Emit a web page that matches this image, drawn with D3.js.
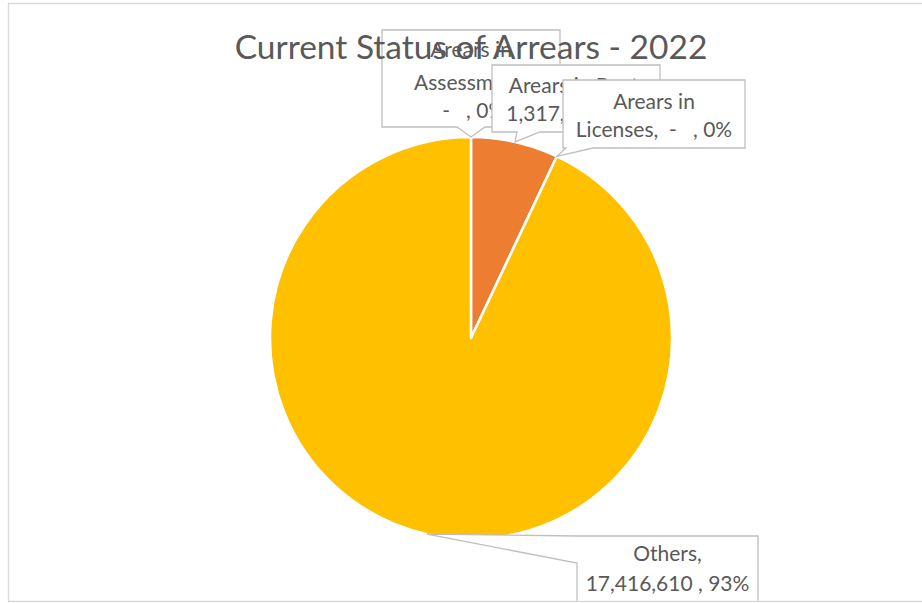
<!DOCTYPE html>
<html>
<head>
<meta charset="utf-8">
<script src="https://cdn.jsdelivr.net/npm/d3@7"></script>
<style>
  html, body { margin: 0; padding: 0; background: #ffffff; }
  svg { display: block; }
  text { font-family: Lato, "Open Sans", sans-serif; }
</style>
</head>
<body>
<svg id="chart" width="922" height="603"></svg>
<script>
// ---- data ----
const title = "Current Status of Arrears - 2022";
const categories = ["Arears in Assessment", "Arears in Rent", "Arears in Licenses", "Others"];
const values = [0, 1317450, 0, 17416610];
const colors = ["#5B9BD5", "#ED7D31", "#A5A5A5", "#FFC000"];
// how each label's category text is wrapped
const labelHeads = [["Arears in", "Assessment,"], ["Arears in Rent,"], ["Arears in"], ["Others,"]];
const labelTailsInline = [false, false, true, false];

// ---- layout ----
const W = 922, H = 603;
const cx = 471, cy = 338, R = 201;
const svg = d3.select("#chart");

svg.append("defs").append("clipPath").attr("id", "area")
  .append("rect").attr("x", 8).attr("y", 3).attr("width", W).attr("height", 598);

const root = svg.append("g").attr("clip-path", "url(#area)");

const total = d3.sum(values);
const pie = d3.pie().sort(null).value(d => d)(values);
const arc = d3.arc().innerRadius(0).outerRadius(R);

const pieG = root.append("g").attr("transform", `translate(${cx},${cy})`);
pieG.selectAll("path").data(pie).join("path")
  .attr("d", arc)
  .attr("fill", (d, i) => colors[i])
  .attr("stroke", "#ffffff")
  .attr("stroke-width", 2.5)
  .attr("stroke-linejoin", "round");

const fmtNum = d3.format(",");
function valueText(v) { return v === 0 ? "-   " : fmtNum(v) + " "; }
function pctText(v) { return Math.round(v / total * 100) + "%"; }

function labelLines(i) {
  const v = values[i];
  const tail = valueText(v) + ", " + pctText(v);
  const heads = labelHeads[i].slice();
  if (labelTailsInline[i]) {
    return [heads[0], categories[i].split(" ").pop() + ",  " + tail];
  }
  if (v === 0) return heads.concat([" " + tail]);
  return heads.concat([tail]);
}

// callout boxes (layout)
const boxes = [
  { x: 382, y: 30, w: 178, h: 97, side: "bottom", t1: 457, t2: 485, lines: [50, 83, 111] },
  { x: 492, y: 65, w: 168, h: 67, side: "bottom", t1: 517, t2: 540, lines: [86, 114] },
  { x: 563, y: 80, w: 182, h: 68, side: "bottom", t1: 566, t2: 593, lines: [102, 130] },
  { x: 577, y: 536, w: 181, h: 80, side: "left", t1: 536, t2: 563, lines: [554, 584] }
];

function tipPoint(d) {
  const a = (d.startAngle + d.endAngle) / 2;
  return [cx + R * Math.sin(a), cy - R * Math.cos(a)];
}

boxes.forEach((b, i) => {
  const [tx, ty] = tipPoint(pie[i]);
  let p;
  const x0 = b.x, y0 = b.y, x1 = b.x + b.w, y1 = b.y + b.h;
  if (b.side === "bottom") {
    p = [[x0, y0], [x1, y0], [x1, y1], [b.t2, y1], [tx, ty], [b.t1, y1], [x0, y1]];
  } else {
    p = [[x0, y0], [x1, y0], [x1, y1], [x0, y1], [x0, b.t2], [tx, ty], [x0, b.t1]];
  }
  const g = root.append("g");
  g.append("path")
    .attr("d", d3.line()(p) + "Z")
    .attr("fill", "#ffffff")
    .attr("stroke", "#bfbfbf")
    .attr("stroke-width", 1.3);
  const lines = labelLines(i);
  g.selectAll("text").data(lines).join("text")
    .attr("x", b.x + b.w / 2)
    .attr("y", (d, k) => b.lines[k])
    .attr("dy", "0.35em")
    .attr("text-anchor", "middle")
    .attr("font-size", 21)
    .attr("fill", "#595959")
    .style("white-space", "pre")
    .text(d => d);
});

// title on top
root.append("text")
  .attr("x", 471)
  .attr("y", 47)
  .attr("dy", "0.35em")
  .attr("text-anchor", "middle")
  .attr("font-size", 33.5)
  .attr("fill", "#595959")
  .text(title);

// border
svg.append("path")
  .attr("d", `M${W + 2},3.5 H8.5 V601.5 H${W + 2}`)
  .attr("fill", "none")
  .attr("stroke", "#d9d9d9")
  .attr("stroke-width", 1.3);
</script>
</body>
</html>
